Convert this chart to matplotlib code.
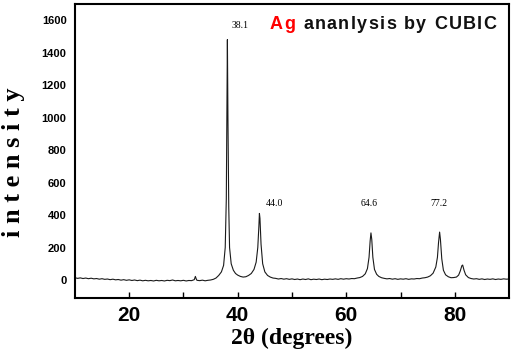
import numpy as np
import matplotlib
matplotlib.use("Agg")
import matplotlib.pyplot as plt

# XRD pattern of Ag
two_theta = [10, 10.5, 11, 11.5, 12, 12.5, 13, 13.5, 14, 14.5, 15, 15.5, 16, 16.5, 17, 17.5,
             18, 18.5, 19, 19.5, 20, 20.5, 21, 21.5, 22, 22.5, 23, 23.5, 24, 24.5, 25, 25.5,
             26, 26.5, 27, 27.5, 28, 28.5, 29, 29.5, 30, 30.5, 31, 31.5, 32, 32.2, 32.4, 32.5,
             33, 33.5, 34, 34.5, 35, 35.5, 36, 36.5, 37, 37.4, 37.7, 37.9, 38.0, 38.1, 38.2,
             38.35, 38.5, 38.8, 39.2, 39.6, 40, 40.5, 41, 41.5, 42, 42.5, 43, 43.4, 43.7, 43.9,
             44.0, 44.1, 44.3, 44.6, 45, 45.5, 46, 46.5, 47, 47.5, 48, 48.5, 49, 49.5, 50, 50.5,
             51, 51.5, 52, 52.5, 53, 53.5, 54, 54.5, 55, 55.5, 56, 56.5, 57, 57.5, 58, 58.5,
             59, 59.5, 60, 60.5, 61, 61.5, 62, 62.5, 63, 63.5, 63.9, 64.2, 64.4, 64.55, 64.7,
             64.9, 65.2, 65.6, 66, 66.5, 67, 67.5, 68, 68.5, 69, 69.5, 70, 70.5, 71, 71.5, 72,
             72.5, 73, 73.5, 74, 74.5, 75, 75.5, 76, 76.5, 76.8, 77.0, 77.2, 77.35, 77.6, 77.9,
             78.3, 78.8, 79.3, 79.8, 80.3, 80.7, 81.0, 81.3, 81.45, 81.7, 82.0, 82.5, 83, 83.5,
             84, 84.5, 85, 85.5, 86, 86.5, 87, 87.5, 88, 88.5, 89, 89.5, 90]
intensity = [14, 10, 13, 9, 12, 8, 11, 7, 9, 5, 8, 4, 6, 2, 5, 1,
             3, -1, 2, -2, 1, -3, 0, -4, -1, -5, -2, -5, -3, -6, -2, -5,
             -3, -6, -2, -4, 0, -5, -3, -5, -2, -6, -3, -4, 2, 22, 3, -2,
             -4, -1, -5, -2, 0, 4, 12, 28, 50, 90, 200, 500, 1000, 1480, 1000,
             450, 200, 100, 60, 40, 30, 22, 18, 20, 28, 40, 65, 110, 200, 330,
             410, 380, 220, 100, 50, 28, 18, 12, 10, 6, 9, 5, 8, 4, 7, 3,
             6, 2, 6, 3, 7, 2, 5, 3, 6, 2, 5, 3, 6, 4, 7, 4,
             8, 5, 8, 6, 9, 8, 12, 15, 22, 38, 70, 140, 240, 290, 250,
             140, 65, 35, 22, 14, 10, 7, 9, 5, 8, 4, 7, 5, 8, 4, 7,
             6, 9, 8, 12, 14, 18, 26, 42, 80, 140, 230, 295, 250, 130, 60,
             32, 20, 14, 15, 18, 30, 55, 88, 92, 60, 32, 15, 9, 6,
             8, 4, 7, 3, 6, 4, 7, 3, 6, 4, 7, 5, 6]

peak_pos = [40.5, 46.7, 64.3, 77.0]
peak_lab_y = [1570, 474, 474, 474]
peak_labels = ["38.1", "44.0", "64.6", "77.2"]

fig = plt.figure(figsize=(5.2, 3.58), dpi=100)
ax = fig.add_axes([0.144, 0.168, 0.835, 0.821])

ax.plot(two_theta, intensity, color="#1a1a1a", lw=0.8)

ax.set_xlim(10, 90)
ax.set_ylim(-110, 1700)
ax.set_xticks([20, 40, 60, 80])
ax.set_xticks([30, 50, 70], minor=True)
ax.set_yticks([0, 200, 400, 600, 800, 1000, 1200, 1400, 1600])
ax.tick_params(axis="x", which="both", direction="in", length=4, width=1, pad=6)
ax.tick_params(axis="y", length=0, pad=6)
for lab in ax.get_xticklabels():
    lab.set_fontfamily("Liberation Sans")
    lab.set_fontweight("bold")
    lab.set_fontsize(15)
for lab in ax.get_yticklabels():
    lab.set_fontfamily("Liberation Sans")
    lab.set_fontweight("bold")
    lab.set_fontsize(8)
for sp in ax.spines.values():
    sp.set_linewidth(1.5)

for x, y, s in zip(peak_pos, peak_lab_y, peak_labels):
    ax.text(x, y, s, fontsize=7, family="Liberation Serif", ha="center", va="center")

# title drawn letter by letter to get the wide letter spacing
title_font = dict(fontsize=13, fontweight="bold", family="Liberation Sans")
prev = ax.text(0.449, 0.915, "A", transform=ax.transAxes, color="red", **title_font)
for i, ch in enumerate("g ananlysis by CUBIC"):
    col = "red" if i == 0 else "#111111"
    prev = ax.annotate(ch, xy=(1, 0), xycoords=prev, xytext=(1.0, 0),
                       textcoords="offset points", va="bottom", color=col, **title_font)

ax.set_xlabel("2θ (degrees)", fontsize=17, fontweight="bold", family="Liberation Serif",
              labelpad=2)
ax.set_ylabel("i n t e n s i t y", fontsize=19, fontweight="bold", family="Liberation Serif",
              labelpad=8)
ax.yaxis.set_label_coords(-0.115, 0.46)

fig.savefig("out.png", dpi=100)
